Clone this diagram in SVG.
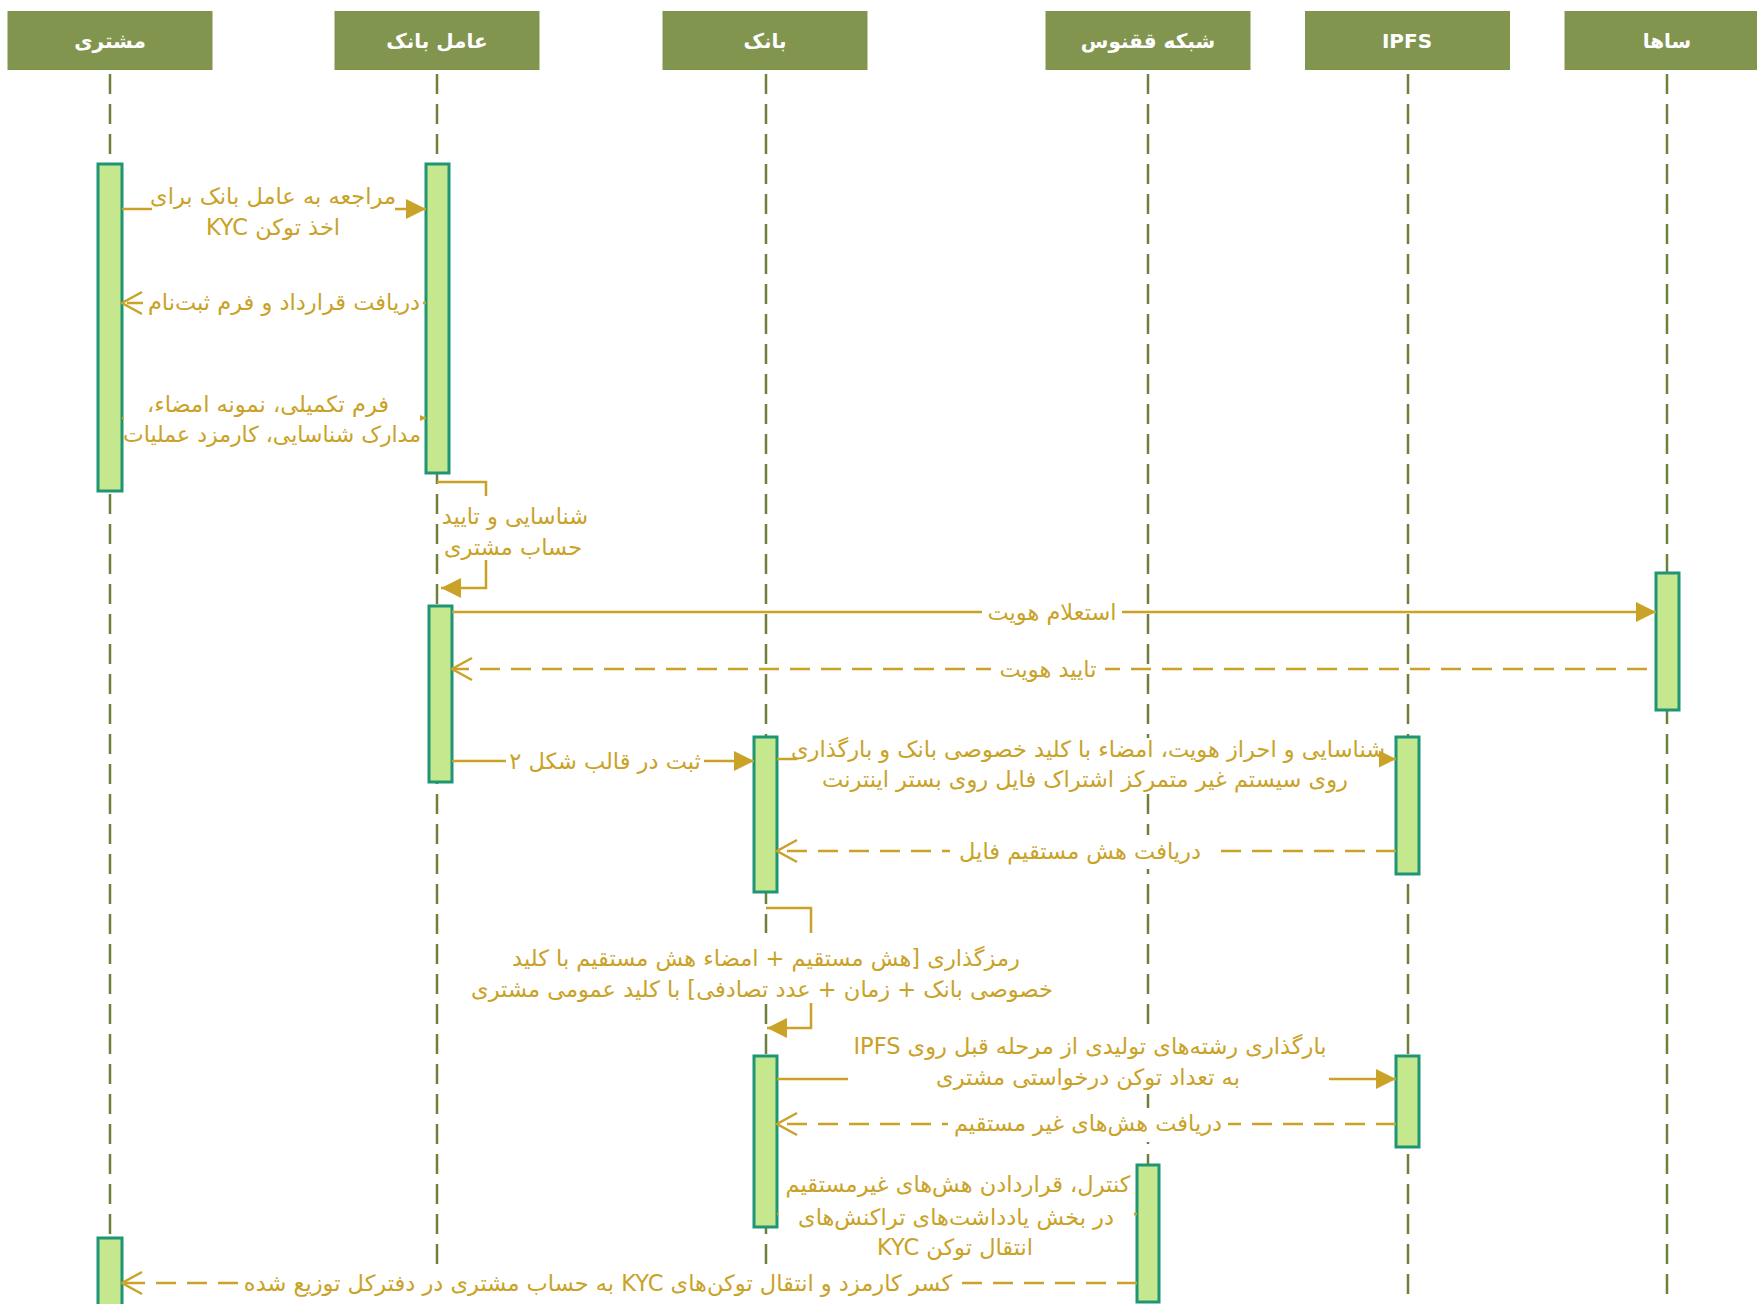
<svg xmlns="http://www.w3.org/2000/svg" width="1757" height="1304" viewBox="0 0 1757 1304">
<style>
.hdr{fill:#82954f}
.htxt{fill:#ffffff;font-family:"DejaVu Sans",sans-serif;font-weight:bold;font-size:20px;text-anchor:middle}
.life{stroke:#6e7f3c;stroke-width:2.5;stroke-dasharray:20 10;fill:none}
.act{fill:#c5e88f;stroke:#1e9676;stroke-width:3}
.msg{stroke:#c9a227;stroke-width:2.5;fill:none}
.dash{stroke-dasharray:20 11}
.bg{fill:#ffffff}
.lbl{fill:#c9a227;font-family:"DejaVu Sans",sans-serif;font-size:22.5px;text-anchor:middle;direction:rtl}
</style>
<defs>
<marker id="fa" markerUnits="userSpaceOnUse" markerWidth="22" markerHeight="22" refX="20" refY="10" orient="auto" viewBox="0 0 22 22" overflow="visible"><path d="M0,0 L20,10 L0,20 z" fill="#c9a227"/></marker>
<marker id="oa" markerUnits="userSpaceOnUse" markerWidth="22" markerHeight="24" refX="20" refY="11" orient="auto" viewBox="0 0 22 22" overflow="visible"><path d="M0,0 L20,11 L0,22" fill="none" stroke="#c9a227" stroke-width="2.5"/></marker>
</defs>
<rect width="1757" height="1304" fill="#ffffff"/>

<g id="customer">
<rect class="hdr" x="7.5" y="11" width="205" height="59"/>
<text class="htxt" x="110" y="48">مشتری</text>
<line class="life" x1="110" y1="74" x2="110" y2="1304"/>
<rect class="act" x="98" y="164" width="24" height="327"/>
<rect class="act" x="98" y="1238" width="24" height="80"/>
</g>

<g id="bank-agent">
<rect class="hdr" x="334.5" y="11" width="205" height="59"/>
<text class="htxt" x="437" y="48">عامل بانک</text>
<line class="life" x1="437" y1="74" x2="437" y2="1304"/>
<rect class="act" x="426" y="164" width="23" height="309"/>
<rect class="act" x="429" y="606" width="23" height="176"/>
</g>

<g id="bank">
<rect class="hdr" x="662.5" y="11" width="205" height="59"/>
<text class="htxt" x="765" y="48">بانک</text>
<line class="life" x1="766" y1="74" x2="766" y2="1304"/>
<rect class="act" x="754" y="737" width="23" height="155"/>
<rect class="act" x="754" y="1056" width="23" height="171"/>
</g>

<g id="phoenix">
<rect class="hdr" x="1045.5" y="11" width="205" height="59"/>
<text class="htxt" x="1148" y="48">شبکه ققنوس</text>
<line class="life" x1="1148" y1="74" x2="1148" y2="1304"/>
<rect class="act" x="1137" y="1165" width="22" height="137"/>
</g>

<g id="ipfs">
<rect class="hdr" x="1305" y="11" width="205" height="59"/>
<text class="htxt" x="1407" y="48">IPFS</text>
<line class="life" x1="1408" y1="74" x2="1408" y2="1304"/>
<rect class="act" x="1396" y="737" width="23" height="137"/>
<rect class="act" x="1396" y="1056" width="23" height="91"/>
</g>

<g id="saha">
<rect class="hdr" x="1564.5" y="11" width="205" height="59"/>
<text class="htxt" x="1667" y="48">ساها</text>
<line class="life" x1="1667" y1="74" x2="1667" y2="1304"/>
<rect class="act" x="1656" y="573" width="23" height="137"/>
</g>

<g id="connectors">
<path class="msg" d="M122,209 H426" marker-end="url(#fa)"/>
<rect class="bg" x="152" y="182" width="243" height="60"/>
<text class="lbl"><tspan x="273" y="204">مراجعه به عامل بانک برای</tspan><tspan x="273" y="235">اخذ توکن KYC</tspan></text>

<path class="msg dash" d="M426,303 H122" marker-end="url(#oa)"/>
<rect class="bg" x="143" y="287" width="280" height="34"/>
<text class="lbl" x="284" y="310">دریافت قرارداد و فرم ثبت‌نام</text>

<path class="msg" d="M122,418 H426" marker-end="url(#fa)"/>
<rect class="bg" x="124" y="388" width="296" height="60"/>
<text class="lbl"><tspan x="268" y="412">فرم تکمیلی، نمونه امضاء،</tspan><tspan x="272" y="442" font-size="22px">مدارک شناسایی، کارمزد عملیات</tspan></text>

<path class="msg" d="M437,482 H486 V588 H441" marker-end="url(#fa)"/>
<rect class="bg" x="440" y="496" width="154" height="64"/>
<text class="lbl"><tspan x="515" y="524">شناسایی و تایید</tspan><tspan x="513" y="555">حساب مشتری</tspan></text>

<path class="msg" d="M452,612 H1656" marker-end="url(#fa)"/>
<rect class="bg" x="982" y="596" width="140" height="34"/>
<text class="lbl" x="1052" y="620">استعلام هویت</text>

<path class="msg dash" d="M1647,669 H452" marker-end="url(#oa)"/>
<rect class="bg" x="991" y="654" width="114" height="34"/>
<text class="lbl" x="1048" y="677">تایید هویت</text>

<path class="msg" d="M452,761 H754" marker-end="url(#fa)"/>
<rect class="bg" x="506" y="746" width="198" height="34"/>
<text class="lbl" x="605" y="769">ثبت در قالب شکل ۲</text>

<path class="msg" d="M777,759 H1396" marker-end="url(#fa)"/>
<rect class="bg" x="797" y="738" width="582" height="56"/>
<text class="lbl"><tspan x="1088" y="757">شناسایی و احراز هویت، امضاء با کلید خصوصی بانک و بارگذاری</tspan><tspan x="1085" y="787">روی سیستم غیر متمرکز اشتراک فایل روی بستر اینترنت</tspan></text>

<path class="msg dash" d="M1396,851 H777" marker-end="url(#oa)"/>
<rect class="bg" x="950" y="835" width="262" height="34"/>
<text class="lbl" x="1080" y="859">دریافت هش مستقیم فایل</text>

<path class="msg" d="M766,908 H811 V1028 H767" marker-end="url(#fa)"/>
<rect class="bg" x="484" y="933" width="557" height="70"/>
<text class="lbl"><tspan x="766" y="966">رمزگذاری [هش مستقیم + امضاء هش مستقیم با کلید</tspan><tspan x="762" y="997">خصوصی بانک + زمان + عدد تصادفی] با کلید عمومی مشتری</tspan></text>

<path class="msg" d="M777,1079 H1396" marker-end="url(#fa)"/>
<rect class="bg" x="848" y="1030" width="481" height="64"/>
<text class="lbl"><tspan x="1090" y="1054">بارگذاری رشته‌های تولیدی از مرحله قبل روی IPFS</tspan><tspan x="1088" y="1085">به تعداد توکن درخواستی مشتری</tspan></text>

<path class="msg dash" d="M1396,1124 H777" marker-end="url(#oa)"/>
<rect class="bg" x="948" y="1108" width="280" height="34"/>
<text class="lbl" x="1088" y="1131">دریافت هش‌های غیر مستقیم</text>

<path class="msg" d="M777,1214 H1137" marker-end="url(#fa)"/>
<rect class="bg" x="779" y="1170" width="355" height="94"/>
<text class="lbl"><tspan x="958" y="1192">کنترل، قراردادن هش‌های غیرمستقیم</tspan><tspan x="956" y="1225">در بخش یادداشت‌های تراکنش‌های</tspan><tspan x="955" y="1255">انتقال توکن KYC</tspan></text>

<path class="msg dash" d="M1137,1283 H122" marker-end="url(#oa)"/>
<rect class="bg" x="238" y="1268" width="722" height="34"/>
<text class="lbl" x="598" y="1291">کسر کارمزد و انتقال توکن‌های KYC به حساب مشتری در دفترکل توزیع شده</text>
</g>
</svg>
